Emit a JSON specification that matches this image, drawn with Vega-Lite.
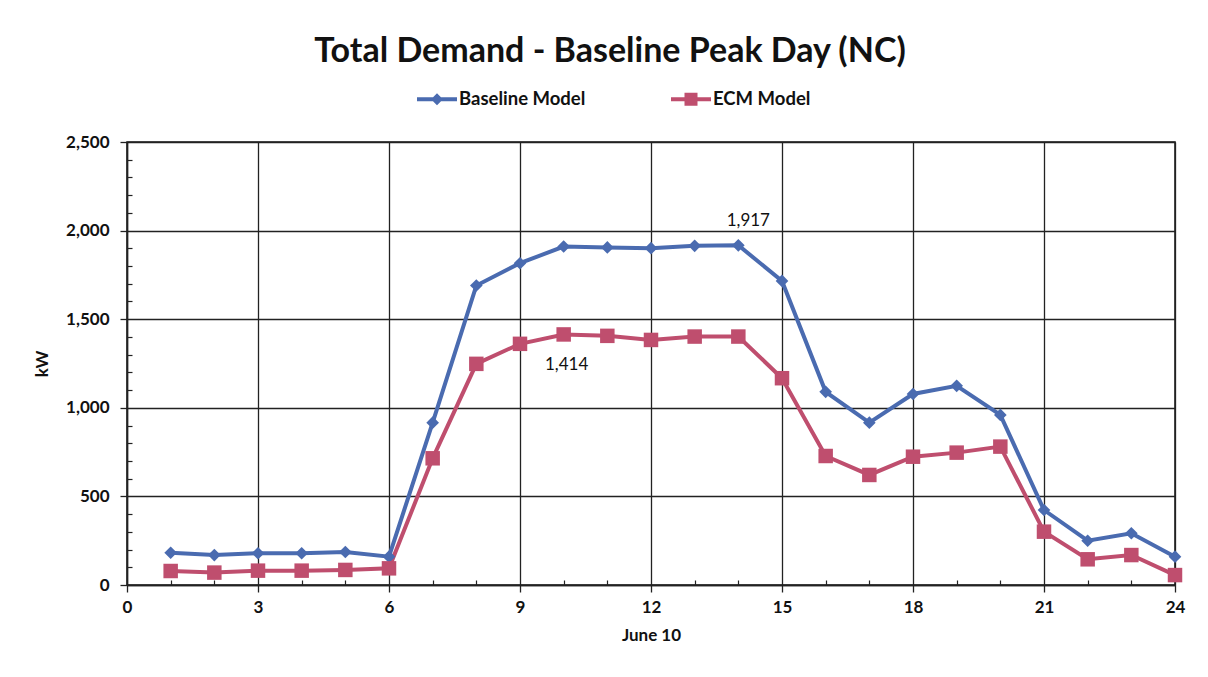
{
  "$schema": "https://vega.github.io/schema/vega-lite/v6.json",
  "width": 1048,
  "height": 443,
  "autosize": "none",
  "padding": {"left": 127, "top": 142, "right": 33, "bottom": 92},
  "background": "white",
  "config": {"view": {"stroke": "#111", "strokeWidth": 1.5}, "font": "Lato"},
  "title": {"text": "Total Demand - Baseline Peak Day (NC)", "font": "Lato", "fontSize": 34, "fontWeight": "bold", "color": "#111", "anchor": "middle", "offset": 20, "dx": -41},
  "data": {"values": [
    {"hour": 1, "series": "Baseline Model", "kW": 182},
    {"hour": 2, "series": "Baseline Model", "kW": 169},
    {"hour": 3, "series": "Baseline Model", "kW": 179},
    {"hour": 4, "series": "Baseline Model", "kW": 179},
    {"hour": 5, "series": "Baseline Model", "kW": 186},
    {"hour": 6, "series": "Baseline Model", "kW": 160},
    {"hour": 7, "series": "Baseline Model", "kW": 916},
    {"hour": 8, "series": "Baseline Model", "kW": 1690},
    {"hour": 9, "series": "Baseline Model", "kW": 1816},
    {"hour": 10, "series": "Baseline Model", "kW": 1910},
    {"hour": 11, "series": "Baseline Model", "kW": 1905},
    {"hour": 12, "series": "Baseline Model", "kW": 1901},
    {"hour": 13, "series": "Baseline Model", "kW": 1914},
    {"hour": 14, "series": "Baseline Model", "kW": 1917, "label": "1,917"},
    {"hour": 15, "series": "Baseline Model", "kW": 1716},
    {"hour": 16, "series": "Baseline Model", "kW": 1090},
    {"hour": 17, "series": "Baseline Model", "kW": 916},
    {"hour": 18, "series": "Baseline Model", "kW": 1078},
    {"hour": 19, "series": "Baseline Model", "kW": 1124},
    {"hour": 20, "series": "Baseline Model", "kW": 960},
    {"hour": 21, "series": "Baseline Model", "kW": 423},
    {"hour": 22, "series": "Baseline Model", "kW": 250},
    {"hour": 23, "series": "Baseline Model", "kW": 292},
    {"hour": 24, "series": "Baseline Model", "kW": 160},
    {"hour": 1, "series": "ECM Model", "kW": 79},
    {"hour": 2, "series": "ECM Model", "kW": 70},
    {"hour": 3, "series": "ECM Model", "kW": 81},
    {"hour": 4, "series": "ECM Model", "kW": 81},
    {"hour": 5, "series": "ECM Model", "kW": 85},
    {"hour": 6, "series": "ECM Model", "kW": 94},
    {"hour": 7, "series": "ECM Model", "kW": 715},
    {"hour": 8, "series": "ECM Model", "kW": 1248},
    {"hour": 9, "series": "ECM Model", "kW": 1361},
    {"hour": 10, "series": "ECM Model", "kW": 1414, "label": "1,414"},
    {"hour": 11, "series": "ECM Model", "kW": 1406},
    {"hour": 12, "series": "ECM Model", "kW": 1383},
    {"hour": 13, "series": "ECM Model", "kW": 1402},
    {"hour": 14, "series": "ECM Model", "kW": 1402},
    {"hour": 15, "series": "ECM Model", "kW": 1167},
    {"hour": 16, "series": "ECM Model", "kW": 728},
    {"hour": 17, "series": "ECM Model", "kW": 621},
    {"hour": 18, "series": "ECM Model", "kW": 724},
    {"hour": 19, "series": "ECM Model", "kW": 747},
    {"hour": 20, "series": "ECM Model", "kW": 781},
    {"hour": 21, "series": "ECM Model", "kW": 301},
    {"hour": 22, "series": "ECM Model", "kW": 145},
    {"hour": 23, "series": "ECM Model", "kW": 169},
    {"hour": 24, "series": "ECM Model", "kW": 56}
  ]},
  "resolve": {"axis": {"x": "independent", "y": "independent"}},
  "layer": [
    {
      "mark": {"type": "line", "strokeWidth": 4},
      "encoding": {
        "x": {"field": "hour", "type": "quantitative",
          "scale": {"domain": [0, 24], "nice": false, "zero": false},
          "axis": {"values": [0, 3, 6, 9, 12, 15, 18, 21, 24], "title": "June 10", "grid": true, "gridColor": "#222", "gridWidth": 1.3, "gridOpacity": 1, "tickColor": "#222", "tickSize": 7, "tickWidth": 1.3, "domainColor": "#222", "domainWidth": 1.5, "labelFont": "Lato", "labelFontWeight": "bold", "labelFontSize": 17, "labelColor": "#111", "labelPadding": 7, "labelFlush": false, "titleFont": "Lato", "titleFontSize": 17, "titleFontWeight": "bold", "titleColor": "#111", "titlePadding": 12}},
        "y": {"field": "kW", "type": "quantitative",
          "scale": {"domain": [0, 2500], "nice": false},
          "axis": {"values": [0, 500, 1000, 1500, 2000, 2500], "format": ",.0f", "title": "kW", "grid": true, "gridColor": "#222", "gridWidth": 1.3, "gridOpacity": 1, "tickColor": "#222", "tickSize": 7, "tickWidth": 1.3, "domainColor": "#222", "domainWidth": 1.5, "labelFont": "Lato", "labelFontWeight": "bold", "labelFontSize": 17, "labelColor": "#111", "labelPadding": 11, "labelFlush": false, "titleFont": "Lato", "titleFontSize": 17, "titleFontWeight": "bold", "titleColor": "#111", "titlePadding": 14}},
        "color": {"field": "series", "type": "nominal",
          "scale": {"domain": ["Baseline Model", "ECM Model"], "range": ["#4A6BB0", "#BF4E6E"]},
          "legend": {"orient": "none", "legendX": 300, "legendY": -53, "direction": "horizontal", "title": null,
            "labelFont": "Lato", "labelFontSize": 18.5, "labelFontWeight": "bold", "labelColor": "#111",
            "symbolSize": 400, "symbolStrokeWidth": 0, "symbolOpacity": 1, "columnPadding": 85, "labelOffset": 12,
            "encode": {"symbols": {"update": {
              "shape": {"signal": "datum.value === 'Baseline Model' ? 'M-2,-0.2H2V0.2H-2Z M0,-0.6L0.6,0L0,0.6L-0.6,0Z' : 'M-2,-0.2H2V0.2H-2Z M-0.65,-0.65H0.65V0.65H-0.65Z'"},
              "fill": {"signal": "datum.value === 'Baseline Model' ? '#4A6BB0' : '#BF4E6E'"},
              "stroke": {"value": "transparent"},
              "opacity": {"value": 1}}}}}}
      }
    },
    {
      "transform": [{"filter": "datum.series === 'Baseline Model'"}],
      "mark": {"type": "point", "shape": "diamond", "filled": true, "opacity": 1, "size": 160, "color": "#4A6BB0"},
      "encoding": {
        "x": {"field": "hour", "type": "quantitative", "axis": null},
        "y": {"field": "kW", "type": "quantitative", "axis": null}
      }
    },
    {
      "transform": [{"filter": "datum.series === 'ECM Model'"}],
      "mark": {"type": "point", "shape": "square", "filled": true, "opacity": 1, "size": 210, "color": "#BF4E6E"},
      "encoding": {
        "x": {"field": "hour", "type": "quantitative", "axis": null},
        "y": {"field": "kW", "type": "quantitative", "axis": null}
      }
    },
    {
      "transform": [{"filter": "datum.label === '1,917'"}],
      "mark": {"type": "text", "font": "Lato", "fontSize": 17, "color": "#111", "dx": 10, "dy": -24},
      "encoding": {
        "x": {"field": "hour", "type": "quantitative", "axis": null},
        "y": {"field": "kW", "type": "quantitative", "axis": null},
        "text": {"field": "label"}
      }
    },
    {
      "transform": [{"filter": "datum.label === '1,414'"}],
      "mark": {"type": "text", "font": "Lato", "fontSize": 17, "color": "#111", "dx": 3, "dy": 31},
      "encoding": {
        "x": {"field": "hour", "type": "quantitative", "axis": null},
        "y": {"field": "kW", "type": "quantitative", "axis": null},
        "text": {"field": "label"}
      }
    },
    {
      "mark": {"type": "point", "opacity": 0},
      "encoding": {
        "x": {"field": "hour", "type": "quantitative",
          "axis": {"orient": "bottom", "values": [1, 2, 4, 5, 7, 8, 10, 11, 13, 14, 16, 17, 19, 20, 22, 23], "labels": false, "grid": false, "domain": false, "title": null, "tickSize": -5, "tickColor": "#222", "tickWidth": 1.2}},
        "y": {"field": "kW", "type": "quantitative",
          "axis": {"orient": "left", "values": [100, 200, 300, 400, 600, 700, 800, 900, 1100, 1200, 1300, 1400, 1600, 1700, 1800, 1900, 2100, 2200, 2300, 2400], "labels": false, "grid": false, "domain": false, "title": null, "tickSize": -5, "tickColor": "#222", "tickWidth": 1.2}}
      }
    }
  ]
}
